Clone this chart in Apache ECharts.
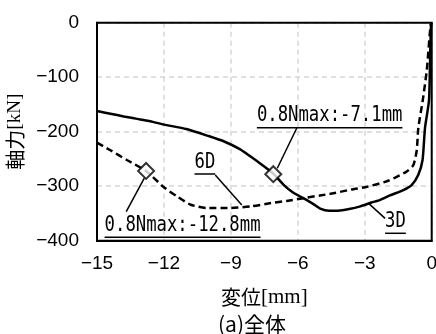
<!DOCTYPE html>
<html><head><meta charset="utf-8">
<script src="https://cdn.jsdelivr.net/npm/echarts@6/dist/echarts.min.js"></script>
<style>html,body{margin:0;padding:0;background:#fff}#c{width:436px;height:334px}</style>
</head><body><div id="c"></div>
<script>
// ---- data ----
const disp3D  = [-15,-14.4,-13.8,-13.4,-13,-12.5,-12,-11,-10,-9.3,-8.6,-8.1,-7.6,-7.1,-6.6,-6.2,-5.75,-5.3,-5.0,-4.6,-4.2,-3.7,-3.2,-2.7,-2.3,-1.87,-1.27,-0.9,-0.6,-0.41,-0.3,-0.12,-0.07,-0.03,0];
const force3D = [-162,-167,-172,-175,-178,-182,-187,-195,-208,-218,-232,-246,-261,-277,-299,-312,-322,-333,-341,-345,-345,-342,-337,-330,-325,-317,-307,-298,-279,-252,-193,-142,-61,-4,0];
const disp6D  = [-15,-14.4,-13.66,-12.8,-12.0,-11.4,-10.8,-10.1,-9.0,-8.1,-7.2,-6.5,-5.75,-5.0,-4.4,-3.6,-2.9,-2.09,-1.57,-1.12,-0.82,-0.67,-0.6,-0.4,-0.22,-0.05,0];
const force6D = [-220,-234,-252,-272,-302,-319,-334,-340,-340,-337,-331,-327,-322,-317,-313,-306,-301,-292,-283,-273,-261,-234,-193,-142,-87,-4,0];
const markDisp  = [-7.1, -12.8];
const markForce = [-278, -272];
const xTicks = [-15,-12,-9,-6,-3,0];
const yTicks = [-400,-300,-200,-100,0];
const annoTexts = ['0.8Nmax:-7.1mm','0.8Nmax:-12.8mm','6D','3D'];

// ---- annotation placement (data coords) ----
const annoPlace = [
  {at:[-7.835,-192.7], leader:[[-6.04,-192.7],[-6.92,-267]]},
  {at:[-14.66,-393.8], leader:[[-13.69,-346.8],[-12.88,-285]]},
  {at:[-10.63,-277.6], leader:[[-9.70,-279.4],[-8.51,-334.5]]},
  {at:[-2.09,-386.4],  leader:[[-2.09,-359],[-2.84,-331]]}
];

const chart = echarts.init(document.getElementById('c'), null, {renderer:'canvas'});
const tickFont = "'Liberation Sans',sans-serif";
const fmt = v => String(v).replace('-', '\u2212');
const option = {
  animation:false,
  grid:{left:97, right:4.3, top:22.7, bottom:93.3, show:true, borderColor:'#000', borderWidth:2,
        backgroundColor:'transparent', containLabel:false, outerBoundsMode:'none', z:3},
  xAxis:{type:'value', min:xTicks[0], max:xTicks[xTicks.length-1], interval:xTicks[1]-xTicks[0],
    name:'{a|変位}{b|[mm]}', nameLocation:'middle', nameGap:46,
    nameTextStyle:{rich:{a:{fontFamily:'Noto Sans CJK JP', fontSize:20, color:'#000'}, b:{fontFamily:'Liberation Serif', fontSize:21, color:'#000'}}},
    axisLine:{show:true, onZero:false, lineStyle:{color:'#000', width:2}}, axisTick:{show:false},
    axisLabel:{color:'#000', fontSize:19, fontFamily:tickFont, margin:14, formatter:fmt},
    splitLine:{show:true, lineStyle:{color:'#d6d6d6', width:1.5, type:[5,4]}}},
  yAxis:{type:'value', min:yTicks[0], max:yTicks[yTicks.length-1], interval:yTicks[1]-yTicks[0],
    name:'{a|軸力}{b|[kN]}', nameLocation:'middle', nameGap:67, nameRotate:90,
    nameTextStyle:{rich:{a:{fontFamily:'Noto Sans CJK JP', fontSize:20, color:'#000'}, b:{fontFamily:'Liberation Serif', fontSize:19, color:'#000'}}},
    axisLine:{show:true, onZero:false, lineStyle:{color:'#000', width:2}}, axisTick:{show:false},
    axisLabel:{color:'#000', fontSize:19, fontFamily:tickFont, margin:18, formatter:fmt},
    splitLine:{show:true, lineStyle:{color:'#d6d6d6', width:1.5, type:[5,4]}}},
  series:[
    {name:'3D', type:'line', data:disp3D.map((d,i)=>[d,force3D[i]]), showSymbol:false, smooth:0.2,
      lineStyle:{color:'#000', width:2.5}, z:3},
    {name:'6D', type:'line', data:disp6D.map((d,i)=>[d,force6D[i]]), showSymbol:false, smooth:0.2,
      lineStyle:{color:'#000', width:2.5, type:[7,4]}, z:3},
    {name:'0.8Nmax', type:'scatter', data:markDisp.map((d,i)=>[d,markForce[i]]), symbol:'diamond', symbolSize:16,
      itemStyle:{color:'#fff', borderColor:'#000', borderWidth:2}, z:5}
  ]
};
chart.setOption(option);

// annotations
const annoFont = "'DejaVu Sans Mono','Liberation Mono',monospace";
const annoSize = 22, annoScale = 0.785;
const mc = document.createElement('canvas').getContext('2d');
mc.font = annoSize + 'px ' + annoFont;
const g = [];
annoPlace.forEach((a,i)=>{
  const p = chart.convertToPixel({gridIndex:0}, a.at);
  const w = mc.measureText(annoTexts[i]).width * annoScale;
  g.push({type:'text', x:p[0], y:p[1]-1, scaleX:annoScale, z:10,
    style:{text:annoTexts[i], font:annoSize+'px '+annoFont, fill:'#000', align:'left', verticalAlign:'bottom'}});
  g.push({type:'line', z:10, shape:{x1:p[0], y1:p[1], x2:p[0]+w, y2:p[1]}, style:{stroke:'#000', lineWidth:1.5}});
  const l0 = chart.convertToPixel({gridIndex:0}, a.leader[0]);
  const l1 = chart.convertToPixel({gridIndex:0}, a.leader[1]);
  g.push({type:'line', z:4, shape:{x1:l0[0], y1:l0[1], x2:l1[0], y2:l1[1]}, style:{stroke:'#000', lineWidth:1.5}});
});
g.push({type:'text', x:218, y:324, style:{text:'(a)全体', font:"21px 'Noto Sans CJK JP'", fill:'#000', verticalAlign:'middle'}});
chart.setOption({graphic:g});
</script></body></html>
